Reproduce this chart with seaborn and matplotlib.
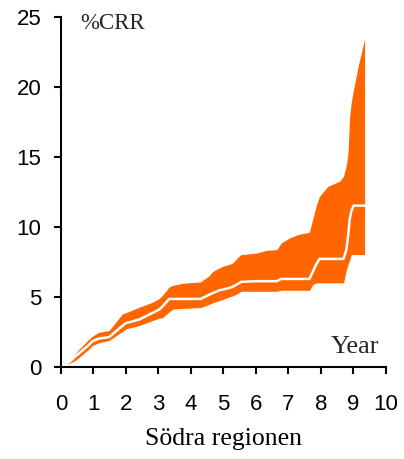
import matplotlib
matplotlib.use("Agg")
import matplotlib.pyplot as plt
import seaborn as sns
import pandas as pd

# years since start
years = [0.2, 0.45, 0.56, 0.71, 0.86, 0.97, 1.17, 1.48, 1.89, 2.0, 2.41, 2.82,
         3.02, 3.13, 3.33, 3.44, 3.75, 4.3, 4.57, 4.67, 4.88, 4.98, 5.19, 5.29,
         5.44, 5.55, 6.0, 6.32, 6.65, 6.78, 7.04, 7.3, 7.65, 7.76, 7.86, 7.96,
         8.22, 8.58, 8.7, 8.79, 8.84, 8.89, 8.94, 9.01, 9.15, 9.35]
# cumulative %CRR estimate
crr = [0.2, 0.75, 0.95, 1.25, 1.55, 1.81, 2.0, 2.1, 2.9, 3.1, 3.36, 3.83,
       4.07, 4.3, 4.83, 4.83, 4.83, 4.83, 5.14, 5.25, 5.45, 5.5, 5.62, 5.7,
       5.9, 6.05, 6.1, 6.1, 6.1, 6.26, 6.26, 6.26, 6.26, 6.8, 7.3, 7.69,
       7.69, 7.69, 7.69, 8.36, 9.3, 10.5, 11.1, 11.5, 11.5, 11.5]
# confidence band
crr_lo = [0.15, 0.45, 0.65, 0.95, 1.25, 1.5, 1.7, 1.86, 2.5, 2.69, 2.93, 3.29,
          3.45, 3.5, 3.9, 4.1, 4.15, 4.22, 4.45, 4.55, 4.72, 4.79, 4.98, 5.05,
          5.21, 5.38, 5.38, 5.38, 5.38, 5.45, 5.45, 5.45, 5.45, 5.86, 5.98, 5.98,
          5.98, 5.98, 5.98, 6.93, 7.3, 7.6, 8.0, 8.0, 8.0, 8.0]
crr_hi = [0.3, 0.95, 1.25, 1.6, 1.95, 2.17, 2.45, 2.57, 3.76, 3.85, 4.24, 4.6,
          4.85, 5.1, 5.69, 5.8, 5.95, 6.05, 6.5, 6.8, 7.05, 7.17, 7.3, 7.4,
          7.8, 8.0, 8.1, 8.3, 8.36, 8.83, 9.19, 9.43, 9.6, 10.6, 11.5, 12.16,
          12.88, 13.24, 13.6, 14.4, 15.3, 17.9, 18.9, 19.8, 21.45, 23.4]

df = pd.DataFrame({"year": years, "crr": crr, "lo": crr_lo, "hi": crr_hi})

sns.set_style("ticks")
orange = "#FF6600"

fig = plt.figure(figsize=(4.04, 4.59), dpi=100)
ax = fig.add_axes([0.151, 0.2015, 0.8037, 0.762])

ax.fill_between(df["year"], df["lo"], df["hi"], color=orange, lw=0)
sns.lineplot(data=df, x="year", y="crr", color="white", lw=1.8, ax=ax)

ax.set_xlim(0, 10)
ax.set_ylim(0, 25)
ax.set_xticks(range(0, 11))
ax.set_yticks(range(0, 26, 5))
for s in ["top", "right"]:
    ax.spines[s].set_visible(False)
for s in ["left", "bottom"]:
    ax.spines[s].set_linewidth(1.5)
    ax.spines[s].set_color("black")
ax.tick_params(axis="both", width=1.5, length=5, color="black",
               labelsize=16, labelcolor="black")
ax.tick_params(axis="x", pad=15)
ax.tick_params(axis="y", pad=9)
for lab in ax.get_xticklabels() + ax.get_yticklabels():
    lab.set_family("Liberation Sans")

ax.set_ylabel("")
ax.set_xlabel("Södra regionen", family="Liberation Serif", fontsize=18.5,
              labelpad=9, color="black")
ax.text(0.6, 25.3, "%CRR", family="Liberation Serif", fontsize=16.5,
        va="top", ha="left")
ax.text(9.8, 0.6, "Year", family="Liberation Serif", fontsize=19,
        va="bottom", ha="right")

fig.savefig("out.png", dpi=100)
